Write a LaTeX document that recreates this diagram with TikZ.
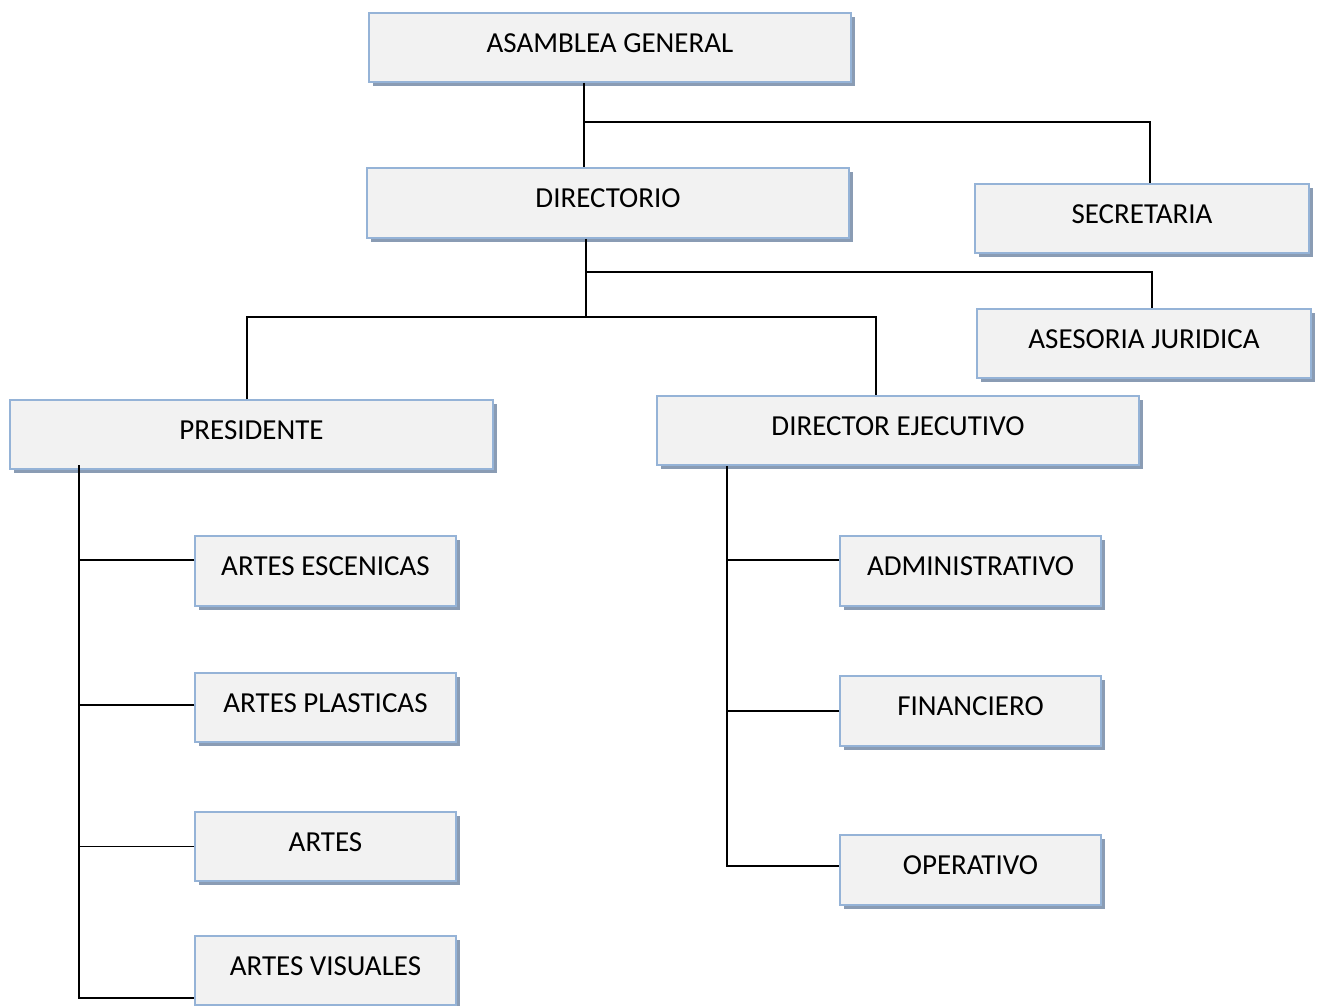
\documentclass[tikz,border=0pt]{standalone}
\usepackage{fontspec}
\setmainfont{Carlito}
\usetikzlibrary{shadows}
\definecolor{boxfill}{HTML}{F2F2F2}
\definecolor{boxline}{HTML}{95B3D7}
\definecolor{boxshade}{HTML}{8A9CB4}

\begin{document}
\begin{tikzpicture}[
    x=1pt, y=-1pt,
    box/.style={rectangle, draw=boxline, fill=boxfill, line width=1.5pt, inner sep=0pt,
        minimum width=482pt, minimum height=69pt, text height=20pt, text depth=11pt,
        font=\fontsize{29}{34}\selectfont,
        drop shadow={shadow xshift=3.5pt, shadow yshift=-4pt, fill=boxshade, opacity=1}},
    sidebox/.style={box, minimum width=334pt},
    unitbox/.style={box, minimum width=261pt, minimum height=70pt},
    link/.style={draw=black, line width=1.5pt} % Verbindungslinien
]
\useasboundingbox (0,0) rectangle (1320,1005);

% Leitung
\node[box] (asamblea) at (610,47.5) {ASAMBLEA GENERAL};
\node[box, minimum height=70pt] (directorio) at (608,203) {DIRECTORIO};
\node[sidebox] (secretaria) at (1142,218.5) {SECRETARIA};
\node[sidebox] (asesoria) at (1144,343.5) {ASESORIA JURIDICA};
\node[box, minimum width=483pt] (presidente) at (251.5,434.5) {PRESIDENTE};
\node[box] (ejecutivo) at (898,430.5) {DIRECTOR EJECUTIVO};

% Bereiche
\node[unitbox] (escenicas) at (325.5,571) {ARTES ESCENICAS};
\node[unitbox, minimum height=69pt] (plasticas) at (325.5,707.5) {ARTES PLASTICAS};
\node[unitbox, minimum height=69pt] (artes) at (325.5,846.5) {ARTES};
\node[unitbox, minimum height=69pt] (visuales) at (325.5,970.5) {ARTES VISUALES};
\node[unitbox] (admin) at (970.5,571) {ADMINISTRATIVO};
\node[unitbox] (finanzas) at (970.5,711) {FINANCIERO};
\node[unitbox] (operativo) at (970.5,870) {OPERATIVO};

% Stammlinien
\coordinate (jA) at (584,122);
\coordinate (jB) at (586,272);
\coordinate (jC) at (586,317);
\coordinate (trunkP) at (79,465);
\coordinate (trunkE) at (727,465);

\draw[link] (asamblea.south -| jA) -- (directorio.north -| jA);
\draw[link] (jA) -| ([xshift=8pt]secretaria.north);
\draw[link] (directorio.south -| jB) -- (jC);
\draw[link] (jB) -| ([xshift=8pt]asesoria.north);
\draw[link] ([xshift=-4.5pt]presidente.north) |- (jC) -| ([xshift=-22pt]ejecutivo.north);

\draw[link] (trunkP) |- ([yshift=-27.5pt]visuales.west);
\draw[link] ([yshift=11pt]escenicas.west) -- ([yshift=11pt]escenicas.west -| trunkP);
\draw[link] ([yshift=2.5pt]plasticas.west) -- ([yshift=2.5pt]plasticas.west -| trunkP);
\draw[link] (artes.west) -- (artes.west -| trunkP);

\draw[link] (ejecutivo.south -| trunkE) |- ([yshift=4pt]operativo.west);
\draw[link] ([yshift=11pt]admin.west) -- ([yshift=11pt]admin.west -| trunkE);
\draw[link] (finanzas.west) -- (finanzas.west -| trunkE);

\end{tikzpicture}
\end{document}
